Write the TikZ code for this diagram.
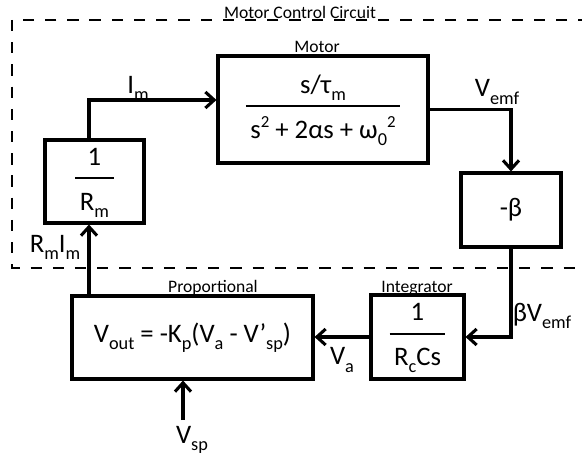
\documentclass[tikz,border=0pt]{standalone}
\usepackage{fontspec}
\setmainfont{Carlito}
\usetikzlibrary{arrows.meta}

\newcommand{\sbs}[1]{\raisebox{-0.55ex}{\fontsize{13}{13}\selectfont #1}}
\newcommand{\sps}[1]{\raisebox{0.85ex}{\fontsize{12}{12}\selectfont #1}}
\newcommand{\frc}[2]{\setlength{\arrayrulewidth}{1.3pt}\begin{tabular}{@{\,}c@{\,}}#1\\[2pt]\hline\rule{0pt}{22pt}#2\end{tabular}}

\tikzset{
  blk/.style={draw, line width=2.2pt, inner sep=0pt, font=\fontsize{19}{22}\selectfont},
  wire/.style={line width=2.2pt, -{Straight Barb[length=2.2mm,width=4mm]}},
  lbl/.style={inner sep=0pt, font=\fontsize{19}{22}\selectfont},
  ttl/.style={inner sep=0pt, font=\fontsize{12.5}{14}\selectfont}
}

\begin{document}
\begin{tikzpicture}
\useasboundingbox (0,0) rectangle (14.55,-11.5);

\draw[line width=1.4pt, dash pattern=on 8pt off 7.8pt] (0.3,-0.5) rectangle (15.2,-6.7);
\node[ttl] (mcc) at (7.5,-0.3) {Motor Control Circuit};

\node[blk, minimum width=2.475cm, minimum height=2.075cm] (rm) at (2.3625,-4.5375) {\frc{1}{R\sbs{m}}};
\node[blk, minimum width=5.25cm, minimum height=2.675cm] (motor) at (8.075,-2.7375) {\frc{s/τ\sbs{m}}{s\sps{2} + 2αs + ω\sbs{0}\sps{2}}};
\node[blk, minimum width=2.5cm, minimum height=1.85cm] (beta) at (12.775,-5.25) {-β};
\node[blk, minimum width=6.025cm, minimum height=2.075cm] (prop) at (4.8125,-8.4375) {V\sbs{out} = -K\sbs{p}(V\sbs{a} - V’\sbs{sp})};
\node[blk, minimum width=2.325cm, minimum height=2.1cm] (integ) at (10.4375,-8.425) {\frc{1}{R\sbs{c}Cs}};

\node[ttl] (motorttl) at (7.925,-1.175) {Motor};
\node[ttl] (propttl) at (5.325,-7.2) {Proportional};
\node[ttl] (integttl) at (10.425,-7.2) {Integrator};

\coordinate (kink) at (2.225,-2.5);
\coordinate (vspend) at (4.575,-10.5);

\draw[wire] (rm.north -| kink) -- (kink) -- (motor.west |- kink);
\draw[wire] (motor.east) -| (beta.north);
\draw[wire] (beta.south) |- (integ.east);
\draw[wire] (integ.west) -- (prop.east |- integ.west);
\draw[wire] (vspend) -- (vspend |- prop.south);
\draw[wire] (prop.north -| kink) -- (rm.south -| kink);

\node[lbl] (im) at (3.45,-2.2) {I\sbs{m}};
\node[lbl] (vemf) at (12.425,-2.3) {V\sbs{emf}};
\node[lbl] (rmim) at (1.375,-6.175) {R\sbs{m}I\sbs{m}};
\node[lbl] (bvemf) at (13.55,-7.9) {βV\sbs{emf}};
\node[lbl] (va) at (8.55,-9.0) {V\sbs{a}};
\node[lbl] (vsp) at (4.8,-11.0) {V\sbs{sp}};

\end{tikzpicture}
\end{document}
